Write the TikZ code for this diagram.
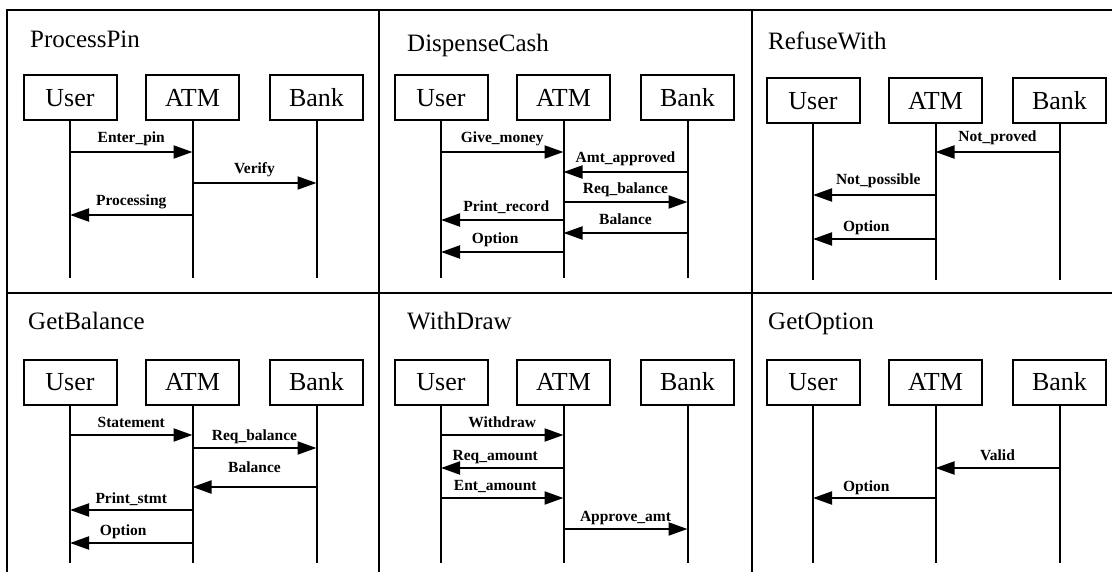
\documentclass[tikz,border=0pt]{standalone}
\usepackage{fontspec}
\setmainfont{Liberation Serif}
\usetikzlibrary{arrows.meta}

\tikzset{
  frameline/.style={line width=2pt},
  actor/.style={draw, line width=2pt, minimum width=93pt, minimum height=45pt,
    inner sep=0pt, font=\fontsize{26}{28}\selectfont},
  paneltitle/.style={anchor=base west, inner sep=0pt, font=\fontsize{25}{28}\selectfont},
  lifeline/.style={line width=2pt},
  msg/.style={line width=2pt, -{Triangle[length=19pt,width=13pt]}},
  msglabel/.style={anchor=base, inner sep=0pt, font=\bfseries\fontsize{15.5}{17}\selectfont}
}

% one sequence panel: name, x offset, box centre y, lifeline end y
\newcommand\seqpanel[4]{%
  \node[actor] (#1u) at (#2+70,#3) {User};
  \node[actor] (#1a) at (#2+192.5,#3) {ATM};
  \node[actor] (#1b) at (#2+316.5,#3) {Bank};
  \coordinate (#1ue) at (#2+70,#4);
  \coordinate (#1ae) at (#2+192.5,#4);
  \coordinate (#1be) at (#2+316.5,#4);
  \draw[lifeline] (#1u.south) -- (#1ue);
  \draw[lifeline] (#1a.south) -- (#1ae);
  \draw[lifeline] (#1b.south) -- (#1be);
}

% one message: from, to, y, label, label xshift, label yshift
\newcommand\seqmsg[6]{%
  \draw[msg] (#1 |- 0,#3) -- (#2 |- 0,#3)
    node[msglabel, midway, xshift=#5pt, yshift=#6pt] {#4};
}

\begin{document}
\begin{tikzpicture}[x=1pt, y=-1pt]
\useasboundingbox (0,0) rectangle (1112,572);

% table frame
\draw[frameline] (1112,10) -- (7,10) -- (7,572);
\draw[frameline] (7,293) -- (1112,293);
\draw[frameline] (378.5,10) -- (378.5,572);
\draw[frameline] (752,10) -- (752,572);

% titles
\node[paneltitle] (t1) at (30,48) {ProcessPin};
\node[paneltitle] (t2) at (407,52) {DispenseCash};
\node[paneltitle] (t3) at (768,50) {RefuseWith};
\node[paneltitle] (t4) at (28,330) {GetBalance};
\node[paneltitle] (t5) at (407,330) {WithDraw};
\node[paneltitle] (t6) at (768,330) {GetOption};

% panels
\seqpanel{p1}{0}{98}{278}
\seqpanel{p2}{371}{98}{278}
\seqpanel{p3}{743}{101}{280}
\seqpanel{p4}{0}{382}{563}
\seqpanel{p5}{371}{382}{563}
\seqpanel{p6}{743}{382}{563}

% ProcessPin
\seqmsg{p1u}{p1a}{152}{Enter\_pin}{0}{9}
\seqmsg{p1a}{p1b}{183}{Verify}{0}{9}
\seqmsg{p1a}{p1u}{215}{Processing}{0}{9}

% DispenseCash
\seqmsg{p2u}{p2a}{152}{Give\_money}{0}{9}
\seqmsg{p2b}{p2a}{172}{Amt\_approved}{0}{9}
\seqmsg{p2a}{p2b}{202}{Req\_balance}{0}{8}
\seqmsg{p2a}{p2u}{220}{Print\_record}{4}{8}
\seqmsg{p2b}{p2a}{233}{Balance}{0}{8}
\seqmsg{p2a}{p2u}{252}{Option}{-7}{8}

% RefuseWith
\seqmsg{p3b}{p3a}{152}{Not\_proved}{0}{10}
\seqmsg{p3a}{p3u}{195}{Not\_possible}{4}{10}
\seqmsg{p3a}{p3u}{239}{Option}{-8}{7}

% GetBalance
\seqmsg{p4u}{p4a}{435}{Statement}{0}{8}
\seqmsg{p4a}{p4b}{448}{Req\_balance}{0}{8}
\seqmsg{p4b}{p4a}{487}{Balance}{0}{15}
\seqmsg{p4a}{p4u}{510}{Print\_stmt}{0}{7}
\seqmsg{p4a}{p4u}{543}{Option}{-8}{8}

% WithDraw
\seqmsg{p5u}{p5a}{435}{Withdraw}{0}{8}
\seqmsg{p5a}{p5u}{468}{Req\_amount}{-7}{8}
\seqmsg{p5u}{p5a}{498}{Ent\_amount}{-7}{8}
\seqmsg{p5a}{p5b}{529}{Approve\_amt}{0}{8}

% GetOption
\seqmsg{p6b}{p6a}{468}{Valid}{0}{8}
\seqmsg{p6a}{p6u}{498}{Option}{-8}{7}
\end{tikzpicture}
\end{document}
